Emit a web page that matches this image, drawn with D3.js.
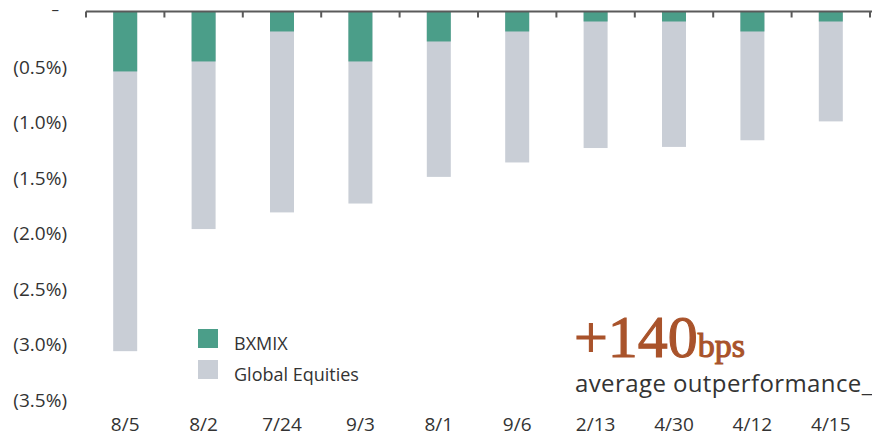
<!DOCTYPE html>
<html>
<head>
<meta charset="utf-8">
<script src="https://cdn.jsdelivr.net/npm/d3@7"></script>
<style>
  html, body { margin: 0; padding: 0; background: #ffffff; }
  svg { display: block; }
  text { font-family: "Open Sans", "DejaVu Sans", sans-serif; fill: #333333; }
</style>
</head>
<body>
<svg id="chart" width="872" height="436"></svg>
<script>
// ---- Data (drawdowns, in %) ----
const categories = ["8/5", "8/2", "7/24", "9/3", "8/1", "9/6", "2/13", "4/30", "4/12", "4/15"];
const bxmix = [0.54, 0.45, 0.18, 0.45, 0.27, 0.18, 0.09, 0.09, 0.18, 0.09];
const globalEquities = [3.06, 1.96, 1.81, 1.73, 1.49, 1.36, 1.23, 1.22, 1.16, 0.99];
const yTickValues = [0, 0.5, 1.0, 1.5, 2.0, 2.5, 3.0, 3.5];
const yTickLabels = ["–", "(0.5%)", "(1.0%)", "(1.5%)", "(2.0%)", "(2.5%)", "(3.0%)", "(3.5%)"];
const seriesNames = ["BXMIX", "Global Equities"];
const headline = "+140";
const headlineUnit = "bps";
const subline = "average outperformance_";

const colors = { bxmix: "#4b9e89", equities: "#c9ced6", axis: "#5a5a5a", accent: "#a9532b" };

const svg = d3.select("#chart");

const x = d3.scaleBand()
  .domain(categories)
  .range([86, 870])
  .paddingInner(0.694)
  .paddingOuter(0.347);

const y = d3.scaleLinear().domain([0, 3.5]).range([11.5, 400]);

const rows = categories.map((c, i) => ({ c, eq: globalEquities[i], bx: bxmix[i] }));

svg.append("g").selectAll("rect")
  .data(rows).join("rect")
  .attr("x", d => x(d.c))
  .attr("width", x.bandwidth())
  .attr("y", y(0))
  .attr("height", d => y(d.eq) - y(0))
  .attr("fill", colors.equities);

svg.append("g").selectAll("rect")
  .data(rows).join("rect")
  .attr("x", d => x(d.c))
  .attr("width", x.bandwidth())
  .attr("y", y(0))
  .attr("height", d => y(d.bx) - y(0))
  .attr("fill", colors.bxmix);

// Top axis line with ticks at band boundaries
const axisG = svg.append("g");
axisG.append("line")
  .attr("x1", x.range()[0]).attr("x2", 872)
  .attr("y1", y(0)).attr("y2", y(0))
  .attr("stroke", colors.axis).attr("stroke-width", 2);
const boundaries = d3.range(categories.length + 1).map(i => x.range()[0] + i * x.step());
axisG.selectAll("line.tick")
  .data(boundaries).join("line")
  .attr("class", "tick")
  .attr("x1", d => d).attr("x2", d => d)
  .attr("y1", y(0)).attr("y2", y(0) + 6)
  .attr("stroke", colors.axis).attr("stroke-width", 2);

// Y tick labels
svg.append("g").selectAll("text")
  .data(yTickValues).join("text")
  .attr("x", (d, i) => i === 0 ? 59 : 67)
  .attr("y", d => y(d))
  .attr("dy", (d, i) => i === 0 ? "0.2em" : "0.35em")
  .attr("text-anchor", "end")
  .attr("font-size", (d, i) => i === 0 ? 15 : 19)
  .text((d, i) => yTickLabels[i]);

// X category labels
svg.append("g").selectAll("text")
  .data(categories).join("text")
  .attr("x", d => x(d) + x.bandwidth() / 2)
  .attr("y", 431)
  .attr("text-anchor", "middle")
  .attr("font-size", 19)
  .text(d => d);

// Legend
const legend = svg.append("g");
const legendColors = [colors.bxmix, colors.equities];
seriesNames.forEach((name, i) => {
  legend.append("rect")
    .attr("x", 198).attr("y", 329 + i * 31)
    .attr("width", 20).attr("height", 19)
    .attr("fill", legendColors[i]);
  legend.append("text")
    .attr("x", 234).attr("y", 349.5 + i * 31)
    .attr("font-size", 18)
    .text(name);
});

// Headline annotation
const head = svg.append("text")
  .attr("x", 574).attr("y", 357)
  .style("font-family", "'Liberation Serif', 'DejaVu Serif', serif")
  .style("fill", colors.accent)
  .attr("stroke", colors.accent)
  .attr("stroke-width", 1.1);
head.append("tspan").attr("font-size", 60).text(headline);
head.append("tspan").attr("font-size", 34).text(headlineUnit);

svg.append("text")
  .attr("x", 575).attr("y", 392)
  .attr("font-size", 24)
  .attr("letter-spacing", 0.4)
  .text(subline);
</script>
</body>
</html>
